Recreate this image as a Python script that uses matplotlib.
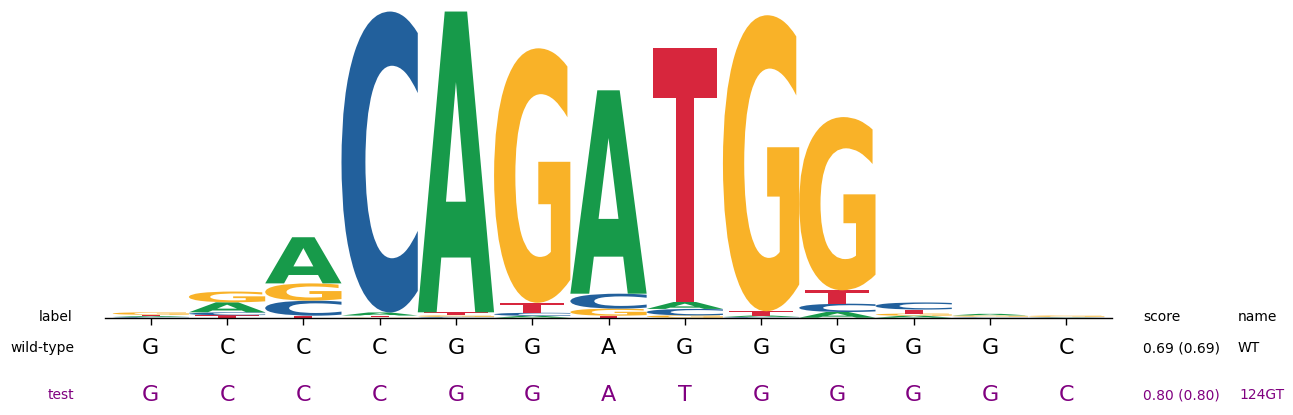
import matplotlib as mpl
mpl.use('Agg')
import matplotlib.pyplot as plt
import matplotlib.transforms as mtransforms
from matplotlib.textpath import TextPath
from matplotlib.patches import PathPatch
from matplotlib.font_manager import FontProperties

# logo heights (bits) per position
bases = ['A', 'C', 'G', 'T']
h_A = [0.006, 0.065, 0.300, 0.020, 1.955, 0.012, 1.322, 0.045, 0.009, 0.037, 0.013, 0.010, 0.002]
h_C = [0.005, 0.019, 0.098, 1.956, 0.006, 0.020, 0.097, 0.042, 0.005, 0.054, 0.046, 0.003, 0.002]
h_G = [0.016, 0.070, 0.112, 0.002, 0.009, 1.654, 0.046, 0.015, 1.924, 1.126, 0.014, 0.008, 0.008]
h_T = [0.008, 0.016, 0.013, 0.012, 0.020, 0.065, 0.013, 1.651, 0.028, 0.087, 0.026, 0.004, 0.002]
base_colors = {'A': '#179a4a', 'C': '#22609c', 'G': '#f9b228', 'T': '#d7263d'}
# T is not stretched to the full column width
base_width = {'A': 1.0, 'C': 1.0, 'G': 1.0, 'T': 0.84}

wt_seq = list('GCCCGGAGGGGGC')
test_seq = list('GCCCGGATGGGGC')
row_labels = ['wild-type', 'test']
scores = ['0.69 (0.69)', '0.80 (0.80)']
names = ['WT', '124GT']
row_colors = ['black', 'purple']

fp = FontProperties(family='DejaVu Sans', weight='bold')


def draw_letter(ax, ch, x, y0, h, color, width=1.0):
    if h <= 0:
        return
    path = TextPath((0, 0), ch, size=1, prop=fp)
    ext = path.get_extents()
    t = mtransforms.Affine2D().translate(-ext.x0, -ext.y0) \
        .scale(width / ext.width, h / ext.height).translate(x - width / 2., y0)
    ax.add_patch(PathPatch(t.transform_path(path), facecolor=color, edgecolor='none', lw=0))


W, H = 1293, 415
fig = plt.figure(figsize=(W / 100., H / 100.), dpi=100)
ax = fig.add_axes([105. / W, 1 - 317.7 / H, (1112. - 105.) / W, (317.7 - 10.) / H])

heights = {'A': h_A, 'C': h_C, 'G': h_G, 'T': h_T}
n = len(h_A)
for i in range(n):
    col = sorted(bases, key=lambda b: heights[b][i])  # big on top
    y = 0.0
    for b in col:
        draw_letter(ax, b, i, y, heights[b][i], base_colors[b], base_width[b])
        y += heights[b][i]

ax.set_xlim(-0.6, n - 0.4)
ax.set_ylim(0, 2.0)
ax.set_xticks(range(n))
ax.set_xticklabels([])
ax.set_yticks([])
for s in ['left', 'top', 'right']:
    ax.spines[s].set_visible(False)
ax.spines['bottom'].set_linewidth(1.0)
ax.tick_params(axis='x', length=5, width=1.0)

def fy(ypx):
    return 1 - ypx / float(H)

blend = mtransforms.blended_transform_factory(ax.transData, fig.transFigure)

fig.text(73. / W, fy(317), 'label', ha='right', va='center', fontsize=10)
fig.text(1143. / W, fy(317), 'score', ha='left', va='center', fontsize=10)
fig.text(1238. / W, fy(317), 'name', ha='left', va='center', fontsize=10)

row_y = [348, 395]
for r, seq in enumerate([wt_seq, test_seq]):
    c = row_colors[r]
    fig.text(74. / W, fy(row_y[r]), row_labels[r], ha='right', va='center', fontsize=10, color=c)
    for i, ch in enumerate(seq):
        fig.text(i, fy(row_y[r]), ch, ha='center', va='center', fontsize=16, color=c, transform=blend)
    fig.text(1143. / W, fy(row_y[r]), scores[r], ha='left', va='center', fontsize=10, color=c)
    fig.text((1238. + r) / W, fy(row_y[r]), names[r], ha='left', va='center', fontsize=10, color=c)

fig.savefig('out.png', dpi=100)
